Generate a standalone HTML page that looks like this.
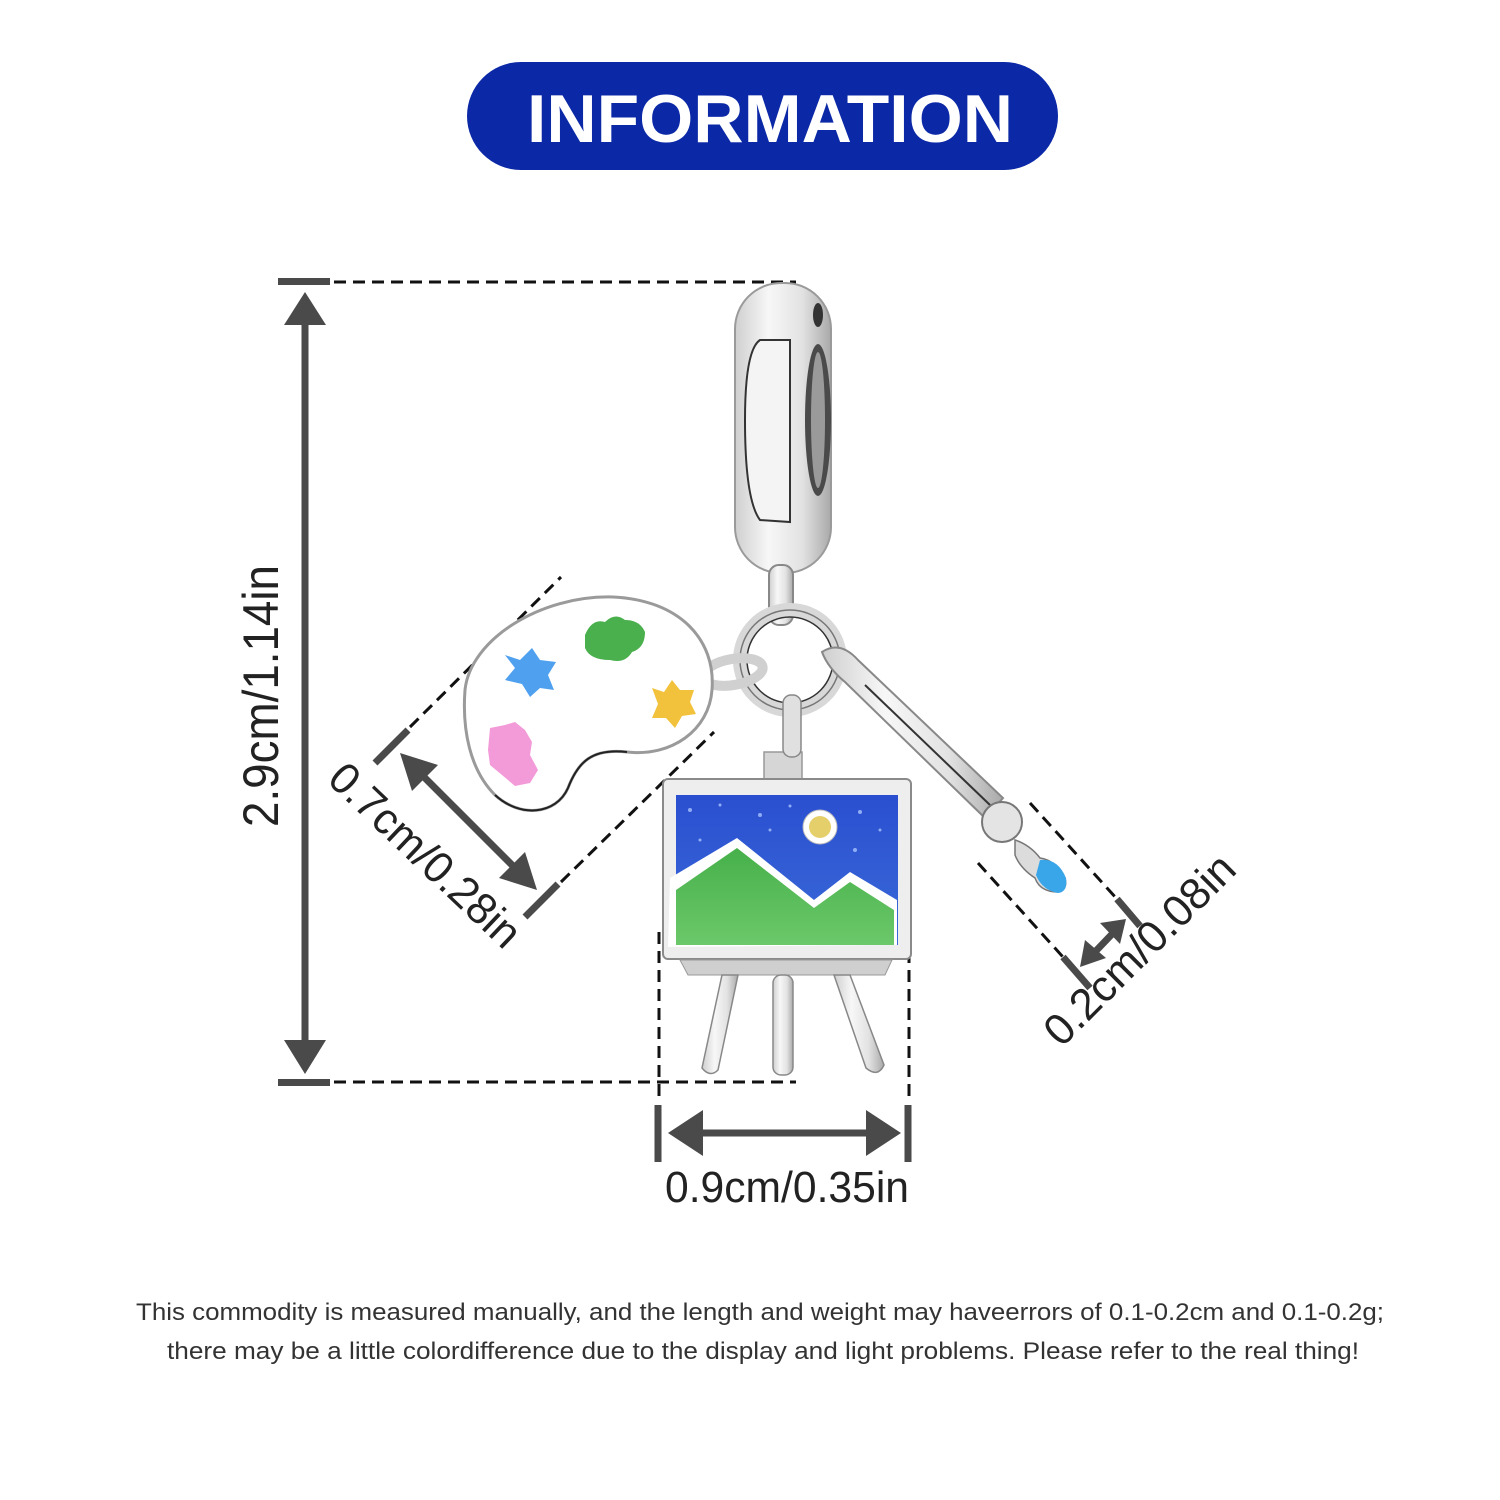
<!DOCTYPE html>
<html><head><meta charset="utf-8"><style>
html,body{margin:0;padding:0;background:#fff;}
svg{display:block;}
text{font-family:"Liberation Sans",sans-serif;}
</style></head><body>
<svg width="1500" height="1500" viewBox="0 0 1500 1500" xmlns="http://www.w3.org/2000/svg">
<defs>
<linearGradient id="silv" x1="0" y1="0" x2="1" y2="0">
<stop offset="0" stop-color="#cfcfcf"/><stop offset="0.35" stop-color="#f7f7f7"/><stop offset="0.7" stop-color="#e2e2e2"/><stop offset="1" stop-color="#a9a9a9"/>
</linearGradient>
<linearGradient id="sky" x1="0" y1="0" x2="0" y2="1">
<stop offset="0" stop-color="#2a4fd0"/><stop offset="1" stop-color="#3a6ad8"/>
</linearGradient>
<linearGradient id="grass" x1="0" y1="0" x2="0" y2="1">
<stop offset="0" stop-color="#46b04a"/><stop offset="1" stop-color="#6cc86a"/>
</linearGradient>
</defs>

<!-- header -->
<rect x="467" y="62" width="591" height="108" rx="54" fill="#0b28a6"/>
<text x="770" y="142" text-anchor="middle" font-size="68" font-weight="bold" fill="#fff" textLength="486" lengthAdjust="spacingAndGlyphs">INFORMATION</text>

<!-- vertical dimension -->
<rect x="278" y="278" width="52" height="7" fill="#4a4a4a"/>
<rect x="278" y="1079" width="52" height="7" fill="#4a4a4a"/>
<line x1="334" y1="282" x2="796" y2="282" stroke="#111" stroke-width="3" stroke-dasharray="12,7"/>
<line x1="334" y1="1082" x2="796" y2="1082" stroke="#111" stroke-width="3" stroke-dasharray="12,7"/>
<line x1="305" y1="315" x2="305" y2="1050" stroke="#4a4a4a" stroke-width="7"/>
<polygon points="305,292 284,325 326,325" fill="#4a4a4a"/>
<polygon points="305,1074 284,1040 326,1040" fill="#4a4a4a"/>
<text transform="translate(278,696) rotate(-90)" text-anchor="middle" font-size="50" fill="#222" textLength="262" lengthAdjust="spacingAndGlyphs">2.9cm/1.14in</text>

<!-- palette dimension -->
<line x1="375" y1="763" x2="408" y2="730" stroke="#4a4a4a" stroke-width="7"/>
<line x1="525" y1="917" x2="558" y2="884" stroke="#4a4a4a" stroke-width="7"/>
<line x1="410" y1="727" x2="561" y2="577" stroke="#111" stroke-width="3" stroke-dasharray="12,7"/>
<line x1="561" y1="882" x2="714" y2="732" stroke="#111" stroke-width="3" stroke-dasharray="12,7"/>
<line x1="415" y1="768" x2="522" y2="875" stroke="#4a4a4a" stroke-width="7"/>
<polygon points="400,753 438,765 412,791" fill="#4a4a4a"/>
<polygon points="537,890 499,878 525,852" fill="#4a4a4a"/>
<text transform="translate(415,866) rotate(43.5)" text-anchor="middle" font-size="44" fill="#222" textLength="246" lengthAdjust="spacingAndGlyphs">0.7cm/0.28in</text>

<!-- bottom dimension -->
<line x1="659" y1="932" x2="659" y2="1100" stroke="#111" stroke-width="3" stroke-dasharray="12,7"/>
<line x1="909" y1="932" x2="909" y2="1100" stroke="#111" stroke-width="3" stroke-dasharray="12,7"/>
<line x1="658" y1="1105" x2="658" y2="1162" stroke="#4a4a4a" stroke-width="7"/>
<line x1="908" y1="1105" x2="908" y2="1162" stroke="#4a4a4a" stroke-width="7"/>
<line x1="690" y1="1133" x2="876" y2="1133" stroke="#4a4a4a" stroke-width="7"/>
<polygon points="668,1133 703,1110 703,1156" fill="#4a4a4a"/>
<polygon points="901,1133 866,1110 866,1156" fill="#4a4a4a"/>

<!-- brush dimension -->
<line x1="1030" y1="803" x2="1117" y2="899" stroke="#111" stroke-width="3" stroke-dasharray="12,7"/>
<line x1="978" y1="863" x2="1063" y2="957" stroke="#111" stroke-width="3" stroke-dasharray="12,7"/>
<line x1="1117" y1="899" x2="1140" y2="926" stroke="#4a4a4a" stroke-width="7"/>
<line x1="1063" y1="957" x2="1090" y2="988" stroke="#4a4a4a" stroke-width="7"/>
<line x1="1092" y1="955" x2="1115" y2="931" stroke="#4a4a4a" stroke-width="7"/>
<polygon points="1080,967 1085,940 1106,958" fill="#4a4a4a"/>
<polygon points="1126,919 1100,923 1120,944" fill="#4a4a4a"/>
<text transform="translate(1150,960) rotate(-45)" text-anchor="middle" font-size="44" fill="#222" textLength="250" lengthAdjust="spacingAndGlyphs">0.2cm/0.08in</text>

<!-- ===== charm ===== -->
<rect x="735" y="283" width="96" height="290" rx="46" fill="url(#silv)" stroke="#9a9a9a" stroke-width="2"/>
<path d="M760 340 Q745 350 745 420 Q745 500 760 520 L790 522 L790 340 Z" fill="#f4f4f4" stroke="#333" stroke-width="2"/>
<ellipse cx="818" cy="420" rx="13" ry="76" fill="#4a4a4a"/>
<ellipse cx="818" cy="420" rx="7" ry="68" fill="#9a9a9a"/>
<ellipse cx="818" cy="315" rx="5" ry="12" fill="#333"/>
<rect x="769" y="565" width="24" height="60" rx="10" fill="url(#silv)" stroke="#888" stroke-width="2"/>
<circle cx="790" cy="660" r="50" fill="none" stroke="#d8d8d8" stroke-width="14"/>
<circle cx="790" cy="660" r="50" fill="none" stroke="#777" stroke-width="1.5"/>
<circle cx="790" cy="660" r="43" fill="none" stroke="#333" stroke-width="1.5"/>
<ellipse cx="733" cy="672" rx="30" ry="13" fill="none" stroke="#d0d0d0" stroke-width="10" transform="rotate(-10 733 672)"/>

<!-- palette -->
<path d="M613 597 C680 600 716 640 712 690 C709 730 672 757 627 752 C592 748 578 762 568 788 C556 815 520 818 495 795 C470 770 462 730 465 690 C470 640 540 595 613 597 Z" fill="#fff" stroke="#9a9a9a" stroke-width="3"/>
<path d="M627 752 C592 748 578 762 568 788 C556 815 520 818 495 795" fill="none" stroke="#222" stroke-width="2"/>
<path d="M505 655 L520 660 L532 648 L540 660 L556 662 L548 675 L554 690 L540 688 L530 697 L522 684 L505 680 L515 668 Z" fill="#4fa0ef"/>
<path d="M585 635 Q592 618 605 622 Q615 612 625 620 Q640 620 645 632 Q645 648 632 652 Q625 664 610 660 Q590 660 585 648 Z" fill="#4ab04e"/>
<path d="M652 688 L664 692 L672 680 L680 690 L694 690 L690 702 L696 714 L682 716 L675 728 L666 718 L652 718 L658 704 Z" fill="#f3c23c"/>
<path d="M490 728 L505 725 L515 722 L525 730 L532 742 L530 755 L538 770 L530 783 L515 786 L502 775 L490 765 L488 750 Z" fill="#f39ad9"/>

<!-- brush -->
<path d="M822 652 Q840 640 858 660 L1003 798 L985 818 L845 682 Q828 668 822 652 Z" fill="url(#silv)" stroke="#888" stroke-width="2"/>
<line x1="865" y1="685" x2="990" y2="805" stroke="#333" stroke-width="2"/>
<circle cx="1002" cy="822" r="20" fill="#e4e4e4" stroke="#777" stroke-width="2"/>
<path d="M1015 840 Q1030 845 1040 858 Q1055 860 1065 878 Q1068 890 1058 892 Q1040 892 1035 878 Q1020 868 1015 855 Z" fill="#dcdcdc" stroke="#777" stroke-width="1.5"/>
<path d="M1040 860 Q1058 858 1066 878 Q1068 892 1058 893 Q1042 890 1036 875 Z" fill="#3aa6ea"/>

<!-- easel -->
<rect x="764" y="752" width="38" height="32" fill="#d6d6d6" stroke="#999" stroke-width="1.5"/>
<rect x="783" y="695" width="18" height="62" rx="8" fill="#e0e0e0" stroke="#888" stroke-width="1.5"/>
<rect x="663" y="779" width="248" height="180" rx="5" fill="#eeeeee" stroke="#8a8a8a" stroke-width="2"/>
<rect x="676" y="795" width="222" height="150" fill="url(#sky)"/>
<path d="M670 878 L737 838 L814 900 L850 872 L897 900 L897 945 L668 947 Z" fill="#fff"/>
<path d="M676 890 L737 848 L814 908 L850 882 L894 910 L894 945 L676 945 Z" fill="url(#grass)"/>
<circle cx="820" cy="827" r="17" fill="#fff" stroke="#bbb"/>
<circle cx="820" cy="827" r="11" fill="#e4cf6a"/>
<g fill="#a8c4ff" opacity="0.8">
<circle cx="690" cy="810" r="2"/><circle cx="720" cy="805" r="1.5"/><circle cx="760" cy="815" r="2"/><circle cx="790" cy="806" r="1.5"/><circle cx="860" cy="812" r="2"/><circle cx="880" cy="830" r="1.5"/><circle cx="700" cy="840" r="1.5"/><circle cx="855" cy="850" r="2"/><circle cx="770" cy="830" r="1.5"/>
</g>
<path d="M680 960 L892 960 L885 975 L688 975 Z" fill="#cfcfcf" stroke="#999"/>
<path d="M722 975 L738 975 L718 1070 Q710 1078 702 1068 Z" fill="url(#silv)" stroke="#888" stroke-width="1.5"/>
<rect x="773" y="975" width="20" height="100" rx="8" fill="url(#silv)" stroke="#888" stroke-width="1.5"/>
<path d="M834 975 L850 975 L884 1065 Q878 1078 866 1068 Z" fill="url(#silv)" stroke="#888" stroke-width="1.5"/>

<text x="787" y="1202" text-anchor="middle" font-size="44" fill="#222" textLength="244" lengthAdjust="spacingAndGlyphs">0.9cm/0.35in</text>

<!-- footer -->
<text x="760" y="1320" text-anchor="middle" font-size="24" fill="#333" textLength="1248" lengthAdjust="spacingAndGlyphs">This commodity is measured manually, and the length and weight may haveerrors of 0.1-0.2cm and 0.1-0.2g;</text>
<text x="763" y="1359" text-anchor="middle" font-size="24" fill="#333" textLength="1192" lengthAdjust="spacingAndGlyphs">there may be a little colordifference due to the display and light problems. Please refer to the real thing!</text>
</svg>
</body></html>
